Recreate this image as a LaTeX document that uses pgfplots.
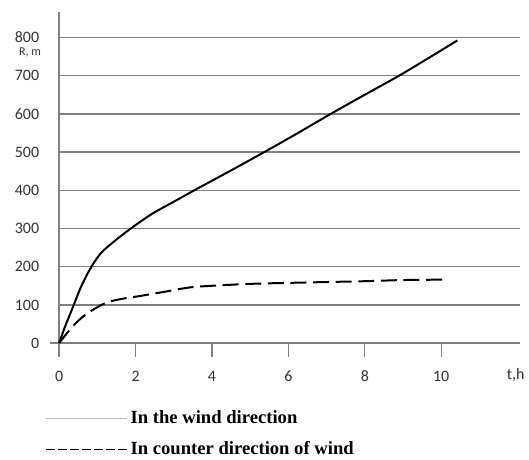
\documentclass[border=0pt]{standalone}
\usepackage{pgfplots}
\pgfplotsset{compat=1.18}
\usepackage{fontspec}
\setmainfont{Liberation Serif}
\newfontfamily\carl{Carlito}
\begin{document}
\begin{tikzpicture}
\begin{axis}[
  x=28.73pt, y=0.2873pt,
  xmin=0, xmax=12.05, ymin=0, ymax=867,
  axis lines=left,
  clip=false,
  axis line style={-, draw=gray, line width=1pt},
  x axis line style={shorten <=-7pt},
  y axis line style={shorten <=-10.5pt},
  xtick={0,2,4,6,8,10},
  ytick={0,100,...,800},
  xtick align=outside,
  ytick align=inside,
  major tick length=10.5pt,
  tick style={draw=gray, line width=1pt},
  ymajorgrids,
  grid style={draw=gray, line width=1pt},
  /pgf/number format/assume math mode=true,
  tick label style={font=\carl\fontsize{12}{12}\selectfont, text=black!80},
  yticklabel style={xshift=-11.5pt},
  xticklabel style={yshift=-7pt},
  legend style={draw=none, fill=none, inner sep=0pt, at={(axis cs:-0.37,-170)}, anchor=north west,
    font=\bfseries\fontsize{14}{16}\selectfont, row sep=8pt, cells={anchor=west}},
  legend image code/.code={\draw[#1] (0pt,0pt) -- (55pt,0pt); \path (0pt,0pt) -- (61pt,0pt);},
]
\path (axis cs:-1.548,898) rectangle (axis cs:12.26,-287);
\addplot[black, line width=1.5pt, smooth, forget plot] coordinates {
(0,0) (0.15,42) (0.34,89) (0.585,150) (0.845,200) (1.107,237) (1.45,267) (1.85,298)
(2.41,337) (3.0,370) (3.54,400) (4.5,452) (5.37,500) (6.2,547) (7.11,600)
(8,650) (8.9,700) (9.7,748) (10.42,792)};
\addplot[black, line width=1.5pt, smooth, dash pattern=on 12pt off 5pt, forget plot] coordinates {
(0,0) (0.365,45) (0.7,75) (1.19,104) (1.6,115) (2.1,123) (2.8,135) (3.24,143)
(3.67,148) (5,155) (6.63,159) (8,162) (9,165) (10.03,166)};
\addlegendimage{gray!55, line width=1.2pt}
\addlegendentry{In the wind direction}
\addlegendimage{black, line width=1pt, dash pattern=on 6.5pt off 2.5pt}
\addlegendentry{In counter direction of wind}
\node[font=\carl\fontsize{9}{9}\selectfont, text=black!80] at (axis cs:-0.76,762) {R, m};
\node[font=\carl\fontsize{12}{12}\selectfont, text=black!80] at (axis cs:11.95,-84) {t,h};
\end{axis}
\end{tikzpicture}
\end{document}
